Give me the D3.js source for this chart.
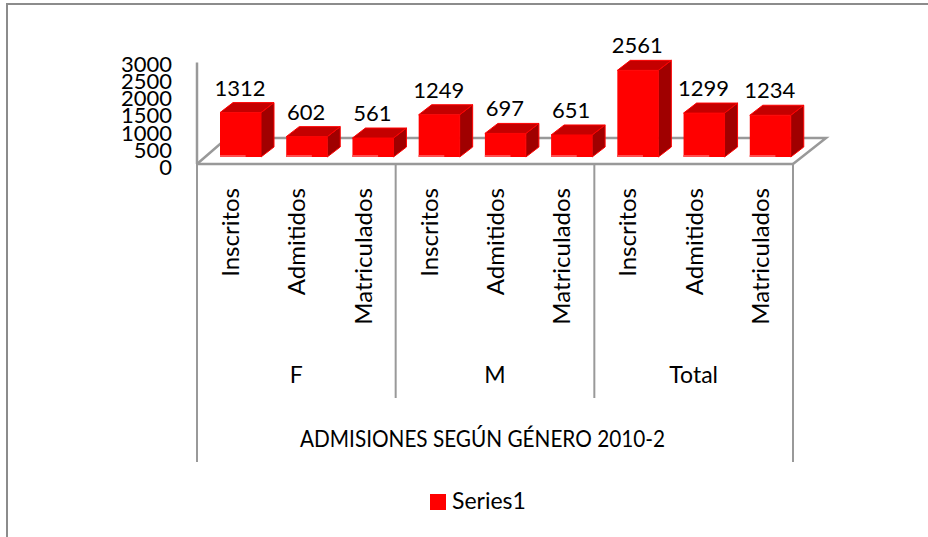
<!DOCTYPE html>
<html><head><meta charset="utf-8"><script src="https://cdn.jsdelivr.net/npm/d3@7"></script>
<style>html,body{margin:0;background:#fff}svg{display:block}text{font-family:Lato,"Open Sans",sans-serif;fill:#000}</style></head>
<body><svg id="c" width="928" height="537"></svg>
<script>
const categories=["Inscritos","Admitidos","Matriculados","Inscritos","Admitidos","Matriculados","Inscritos","Admitidos","Matriculados"];
const groups=["F","M","Total"];
const values=[1312,602,561,1249,697,651,2561,1299,1234];
const yTicks=[0,500,1000,1500,2000,2500,3000];
const title="ADMISIONES SEGÚN GÉNERO 2010-2";
const seriesName="Series1";

const svg=d3.select("#c");
const grey="#999";
svg.append("path").attr("fill","none").attr("stroke","#8c8c8c").attr("stroke-width",2).attr("d","M7,537V4H928");
const x=d3.scaleBand().domain(d3.range(categories.length)).range([197,793]);
const gx=d3.scaleBand().domain(groups).range([197,793]);
const y=d3.scaleLinear().domain([0,3000]).range([164,62.5]);
const labelY=d3.scaleLinear().domain([0,3000]).range([167,64]);
const dx=13,dy=10,floorDx=30,floorDy=26,barOff=23,barW=41,lift=7;

const line=(a,b,c,d,w=2.5)=>svg.append("line").attr("x1",a).attr("y1",b).attr("x2",c).attr("y2",d).attr("stroke",grey).attr("stroke-width",w);
svg.append("path").attr("fill","none").attr("stroke",grey).attr("stroke-width",2.5)
  .attr("d",`M197,${y(0)}L${197+floorDx},${y(0)-floorDy}H${793+floorDx+3}L793,${y(0)}`);
line(197,y(3000),197,y(0));
line(197,y(0),793,y(0));
line(197,y(0),197,462,2);
line(793,y(0),793,462,2);
groups.slice(1).forEach(g=>line(gx(g),y(0),gx(g),398,2));

svg.append("g").selectAll("text").data(yTicks).join("text")
  .attr("x",172).attr("y",d=>labelY(d)).attr("dy","0.36em").attr("text-anchor","end").attr("font-size",22).text(d=>d);

const bars=svg.append("g").selectAll("g").data(values).join("g")
  .attr("transform",(d,i)=>`translate(${x(i)+barOff},${-lift})`);
const H=d=>y(0)-y(d);
bars.append("path").attr("fill","#a00000").attr("stroke","#ff0000").attr("stroke-width",1)
  .attr("d",d=>`M${barW},${y(d)}l${dx},${-dy}V${y(0)-dy}l${-dx},${dy}Z`);
bars.append("path").attr("fill","#c40000").attr("stroke","#ff0000").attr("stroke-width",1)
  .attr("d",d=>`M0,${y(d)}l${dx},${-dy}h${barW}l${-dx},${dy}Z`);
bars.append("rect").attr("x",0).attr("y",d=>y(d)).attr("width",barW).attr("height",H).attr("fill","#ff0000");
bars.append("rect").attr("x",0).attr("y",y(0)-2).attr("width",barW/1.6).attr("height",2).attr("fill","#ff5050");
bars.append("text").attr("x",barW/2-0.5).attr("y",d=>y(d)-17).attr("text-anchor","middle").attr("font-size",22).text(d=>d);

svg.append("g").selectAll("text").data(categories).join("text")
  .attr("transform",(d,i)=>`translate(${x(i)+x.bandwidth()/2+9},188) rotate(-90)`)
  .attr("text-anchor","end").attr("font-size",24).text(d=>d);
svg.append("g").selectAll("text").data(groups).join("text")
  .attr("x",g=>gx(g)+gx.bandwidth()/2).attr("y",382.5).attr("text-anchor","middle").attr("font-size",23).text(d=>d);
svg.append("text").attr("x",300).attr("y",446.5).attr("font-size",23)
  .attr("textLength",365).attr("lengthAdjust","spacingAndGlyphs").text(title);
svg.append("rect").attr("x",430).attr("y",494).attr("width",16).attr("height",16).attr("fill","#ff0000");
svg.append("text").attr("x",452).attr("y",509).attr("font-size",23).text(seriesName);
</script></body></html>
